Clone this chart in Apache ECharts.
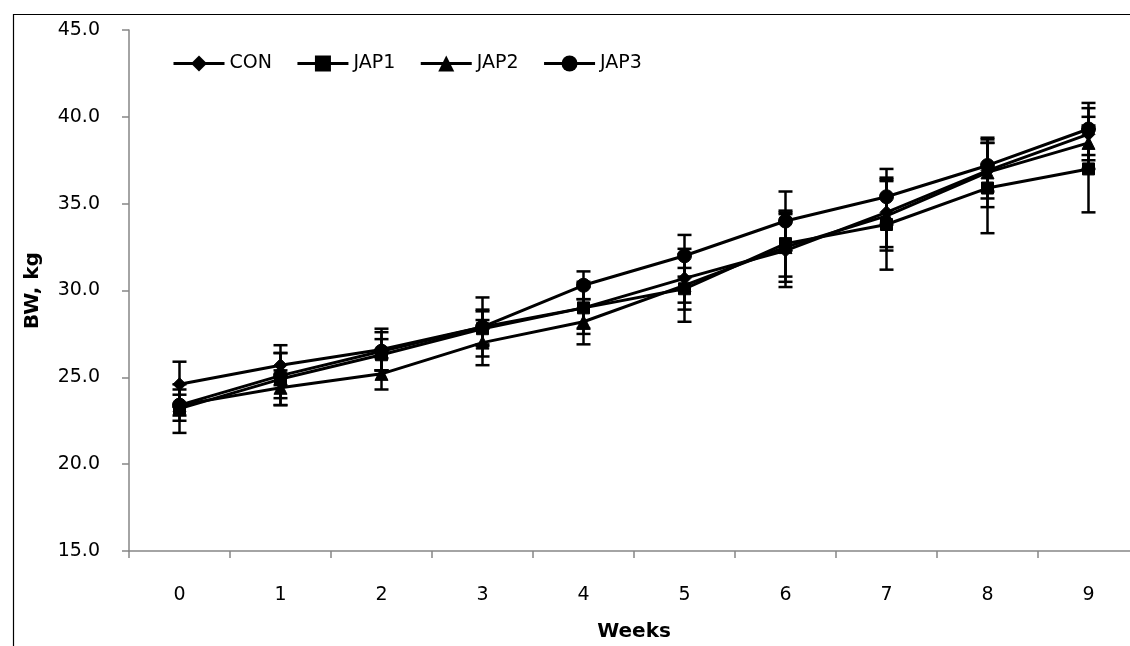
<!DOCTYPE html>
<html>
<head>
<meta charset="utf-8">
<script src="https://cdn.jsdelivr.net/npm/echarts@6/dist/echarts.min.js"></script>
<style>
  html, body { margin: 0; padding: 0; background: #fff; }
  #chart { width: 1130px; height: 646px; }
</style>
</head>
<body>
<div id="chart"></div>
<script>
// body weight by week, mean and SE per treatment
var weeks = ['0', '1', '2', '3', '4', '5', '6', '7', '8', '9'];
var yTicks = [15, 20, 25, 30, 35, 40, 45];

var con  = [24.6, 25.7, 26.6, 27.9, 29.0, 30.7, 32.3, 34.5, 36.9, 39.0];
var jap1 = [23.2, 24.9, 26.3, 27.8, 29.0, 30.1, 32.7, 33.8, 35.9, 37.0];
var jap2 = [23.4, 24.4, 25.2, 27.0, 28.2, 30.3, 32.5, 34.3, 36.8, 38.5];
var jap3 = [23.4, 25.1, 26.5, 27.9, 30.3, 32.0, 34.0, 35.4, 37.2, 39.3];

var conSe  = [1.3, 1.15, 1.2, 1.7, 1.5, 1.4, 2.1, 2.0, 1.6, 1.5];
var jap1Se = [1.4, 1.5, 0.9, 1.0, 1.2, 1.2, 1.9, 2.6, 2.6, 2.5];
var jap2Se = [0.9, 1.0, 0.9, 1.3, 1.3, 2.1, 2.0, 2.0, 2.0, 1.5];
var jap3Se = [0.6, 1.3, 1.1, 1.0, 0.8, 1.2, 1.7, 1.6, 1.5, 1.5];

var groups = [
  { name: 'CON',  data: con,  se: conSe,  symbol: 'diamond',  size: 13 },
  { name: 'JAP1', data: jap1, se: jap1Se, symbol: 'rect',     size: 12 },
  { name: 'JAP2', data: jap2, se: jap2Se, symbol: 'triangle', size: 13 },
  { name: 'JAP3', data: jap3, se: jap3Se, symbol: 'circle',   size: 14 }
];

var font = '"DejaVu Sans", sans-serif';

function errorBars(vals, se) {
  var out = [];
  for (var i = 0; i < vals.length; i++) {
    out.push([i, vals[i] - se[i], vals[i] + se[i]]);
  }
  return out;
}

function renderError(params, api) {
  var lo = api.coord([api.value(0), api.value(1)]);
  var hi = api.coord([api.value(0), api.value(2)]);
  var half = 7;
  var st = { stroke: '#000', lineWidth: 2.5 };
  return {
    type: 'group',
    children: [
      { type: 'line', shape: { x1: hi[0], y1: hi[1], x2: lo[0], y2: lo[1] }, style: st },
      { type: 'line', shape: { x1: hi[0] - half, y1: hi[1], x2: hi[0] + half, y2: hi[1] }, style: st },
      { type: 'line', shape: { x1: lo[0] - half, y1: lo[1], x2: lo[0] + half, y2: lo[1] }, style: st }
    ]
  };
}

var series = [];
groups.forEach(function (g) {
  series.push({
    name: g.name + ' SE',
    type: 'custom',
    renderItem: renderError,
    data: errorBars(g.data, g.se),
    z: 3,
    silent: true
  });
});
groups.forEach(function (g) {
  series.push({
    name: g.name,
    type: 'line',
    data: g.data,
    symbol: g.symbol,
    symbolSize: g.size,
    showAllSymbol: true,
    lineStyle: { color: '#000', width: 3 },
    itemStyle: { color: '#000', borderColor: '#000' },
    z: 4
  });
});

var myChart = echarts.init(document.getElementById('chart'));
myChart.setOption({
  animation: false,
  textStyle: { fontFamily: font },
  graphic: [{
    type: 'rect',
    left: 11, top: 12,
    shape: { width: 1300, height: 800 },
    style: { fill: 'none', stroke: '#000', lineWidth: 1.2 },
    silent: true
  }],
  legend: {
    data: groups.map(function (g) { return g.name; }),
    left: 167,
    top: 49,
    itemWidth: 51,
    itemHeight: 20,
    itemGap: 24,
    lineStyle: { width: 3, color: '#000' },
    textStyle: { color: '#000', fontSize: 19, fontFamily: font }
  },
  grid: { left: 129, top: 30, right: -9, height: 521, outerBoundsMode: 'none' },
  xAxis: {
    type: 'category',
    data: weeks,
    boundaryGap: true,
    name: 'Weeks',
    nameLocation: 'middle',
    nameGap: 71,
    nameTextStyle: { color: '#000', fontSize: 20, fontWeight: 'bold', fontFamily: font },
    axisLine: { lineStyle: { color: '#868686', width: 1.5 } },
    axisTick: { show: true, alignWithLabel: false, length: 7, lineStyle: { color: '#868686', width: 1.5 } },
    axisLabel: { color: '#000', fontSize: 19, margin: 35, fontFamily: font },
    splitLine: { show: false }
  },
  yAxis: {
    type: 'value',
    min: yTicks[0],
    max: yTicks[yTicks.length - 1],
    interval: 5,
    name: 'BW, kg',
    nameLocation: 'middle',
    nameGap: 86,
    nameTextStyle: { color: '#000', fontSize: 20, fontWeight: 'bold', fontFamily: font },
    axisLine: { show: true, lineStyle: { color: '#868686', width: 1.5 } },
    axisTick: { show: true, length: 7, lineStyle: { color: '#868686', width: 1.5 } },
    axisLabel: {
      color: '#000', fontSize: 19, margin: 29, fontFamily: font,
      formatter: function (v) { return v.toFixed(1); }
    },
    splitLine: { show: false }
  },
  series: series
});
</script>
</body>
</html>
